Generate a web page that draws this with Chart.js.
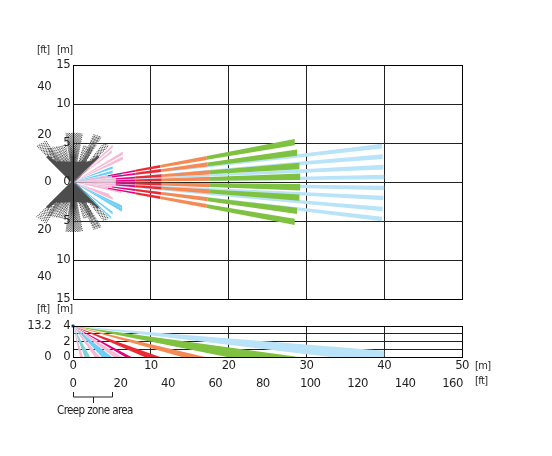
<!DOCTYPE html>
<html><head><meta charset="utf-8">
<style>html,body{margin:0;padding:0;background:#fff;width:552px;height:456px;overflow:hidden}
canvas{position:absolute;left:0}</style>
<script src="https://cdn.jsdelivr.net/npm/chart.js@4"></script></head>
<body><canvas id="plan" width="552" height="312" style="top:0"></canvas>
<canvas id="side" width="552" height="156" style="top:300px"></canvas>
<script>
// Top view (metres)
const meterTicksPlan=[-15,-10,-5,0,5,10,15];
const feetTicksPlan=[-40,-20,0,20,40];
const meterTicksX=[0,10,20,30,40,50];
const feetTicksX=[0,20,40,60,80,100,120,140,160];
const longTipY=[5.1,3.76,2.05,0.68,-0.68,-2.0,-3.7,-5.1];
const pinkEnd=[4.5,5,5.5,5.5,5.5,5.5,5,4.5];
const magentaEnd=[8,8,8,8,8,8,8,8];
const redEnd=[11.2,11.3,11.4,11.4,11.4,11.4,11.3,11.2];
const orangeEnd=[17.2,17.3,17.5,17.6,17.6,17.5,17.3,17.2];
const greenEnd=[28.5,28.8,29.1,29.2,29.2,29.1,28.8,28.5];
const blueTipX=[39.7,39.8,39.9,40,40,39.9,39.8,39.7];
const blueTipY=[4.6,3.25,1.9,0.64,-0.77,-2.05,-3.46,-4.74];
const shortPinkX=[5.1,5.0,6.4,6.4,6.2,5.1,4.7];
const shortPinkY=[4.6,3.9,3.7,3.05,-1.2,-2.1,-1.7];
const shortCyanX=[5.1,5.1,6.2,6.3,6.3,5.1,4.9];
const shortCyanY=[1.85,1.3,1.0,-3.2,-3.6,-4.0,-4.6];
const creepRaysX=[-4.7,-4.5,-4.3,-4.1,-3.9,-3.7,-3.5,-3.2,-3.0,-2.8,-2.6,-2.4,-2.2,-2.0,-1.8,-1.6,-1.4,-1.2,-1.0,-0.9,-0.75,-0.6,-0.45,-0.3,-0.15,0,0.15,0.3,0.45,0.6,0.75,0.9,1.05,1.2,1.4,1.6,1.8,2.0,2.2,2.4,2.6,2.7,2.85,3.0,3.15,3.3,3.45,3.6,4.0,4.2,4.4,4.6];
const creepRaysUp=[4.7,4.8,4.9,5.0,5.1,5.2,5.3,4.3,4.4,4.4,4.5,4.5,4.6,4.6,4.6,4.7,4.7,4.8,4.8,6.3,6.3,6.3,6.3,6.3,6.3,6.3,6.3,6.3,6.3,6.3,6.3,6.3,6.25,6.2,4.7,4.7,4.6,4.6,4.5,4.5,4.4,6.1,6.05,6.0,5.95,5.9,5.85,5.8,5.0,4.9,4.8,4.7];
const creepRaysDown=[-4.5,-4.7,-4.8,-5.0,-5.1,-5.2,-5.3,-4.3,-4.4,-4.4,-4.5,-4.5,-4.6,-4.6,-4.6,-4.7,-4.7,-4.8,-4.8,-6.4,-6.4,-6.4,-6.4,-6.4,-6.4,-6.4,-6.4,-6.4,-6.4,-6.4,-6.4,-6.4,-6.3,-6.3,-4.7,-4.7,-4.6,-4.6,-4.5,-4.5,-4.4,-6.1,-6.05,-6.0,-5.95,-5.9,-5.85,-5.8,-5.0,-4.9,-4.8,-4.7];
const coreX=[-3.3,-3.0,-2.7,-2.4,-2.1,-1.8,-1.5,-1.2,-0.9,-0.6,-0.3,0,0.3,0.6,0.9,1.2,1.5,1.8,2.1,2.4,2.7,3.0,3.3];
const coreUp=[3.3,3.0,2.8,2.6,2.6,2.6,2.6,2.6,2.6,2.6,2.6,2.6,2.6,2.6,2.6,2.6,2.6,2.6,2.6,2.6,2.8,3.0,3.3];
const coreDown=[-3.3,-3.0,-2.8,-2.6,-2.6,-2.6,-2.6,-2.6,-2.6,-2.6,-2.6,-2.6,-2.6,-2.6,-2.6,-2.6,-2.6,-2.6,-2.6,-2.6,-2.8,-3.0,-3.3];
// Side view (metres)
const meterTicksSide=[0,2,4];
const gridSide=[0,1,2,3,4];
const feetTicksSide=[0,13.2];
const sideNames=['blue','green','orange','red','magenta','pink','cyan','pink','teal','pink'];
const sideNear=[33,19.8,14,9.2,6.7,5.2,3.7,2.8,1.5,0.9];
const sideFar=[40,29,17,11.2,7.5,6.3,5,3.5,2.2,1.3];
const colors={blue:'#b8e3f8',green:'#7fc241',orange:'#f58a55',red:'#ed2a33',magenta:'#e6007e',pink:'#f8b9d4',cyan:'#6dcff6',teal:'#7fd3d6',gray:'#4d4d4d'};
const FONT='"DejaVu Sans Condensed","Liberation Sans",sans-serif', INK='#231f20';

function wedge(pts,color){return {data:pts,showLine:true,fill:'shape',backgroundColor:color,borderColor:color,borderWidth:0,pointRadius:0,tension:0};}
function band(tipX,tipY,from,to,w,color){
  const s=tipY/tipX;
  return wedge([{x:from,y:from*(s+w)},{x:to,y:to*(s+w)},{x:to,y:to*(s-w)},{x:from,y:from*(s-w)},{x:from,y:from*(s+w)}],color);
}
function rays(xs,ys,width,dash,offset){
  const pts=[];
  xs.forEach((x,i)=>{pts.push({x:0,y:0},{x:x,y:ys[i]},{x:NaN,y:NaN});});
  return {data:pts,showLine:true,fill:false,borderColor:colors.gray,borderWidth:width,borderDash:dash,borderDashOffset:offset||0,pointRadius:0,clip:false,spanGaps:false,tension:0};
}
const odd=(a,r)=>a.filter((_,i)=>i%2===r);
const planSets=[];
[0,1].forEach(r=>{
  planSets.push(rays(odd(creepRaysX,r),odd(creepRaysUp,r),1.15,[1,1],r));
  planSets.push(rays(odd(creepRaysX,r),odd(creepRaysDown,r),1.15,[1,1],r));
});
planSets.push(rays(coreX,coreUp,3,[]));
planSets.push(rays(coreX,coreDown,3,[]));
blueTipY.forEach((y,i)=>planSets.push(band(blueTipX[i],y,0,blueTipX[i],0.0075,colors.blue)));
shortPinkX.forEach((x,i)=>planSets.push(band(x,shortPinkY[i],0,x,0.032,colors.pink)));
shortCyanX.forEach((x,i)=>planSets.push(band(x,shortCyanY[i],0,x,0.032,colors.cyan)));
longTipY.forEach((y,i)=>{
  const tx=greenEnd[i];
  planSets.push(band(tx,y,0,pinkEnd[i],0.02,colors.pink));
  planSets.push(band(tx,y,pinkEnd[i],magentaEnd[i],0.015,colors.magenta));
  planSets.push(band(tx,y,magentaEnd[i],redEnd[i],0.016,colors.red));
  planSets.push(band(tx,y,redEnd[i],orangeEnd[i],0.015,colors.orange));
  planSets.push(band(tx,y,orangeEnd[i],greenEnd[i],0.014,colors.green));
});

const sideSets=sideNames.map((n,i)=>{
  const p=n==='blue'
    ?[{x:0,y:4},{x:sideFar[i],y:0.8},{x:sideFar[i],y:0},{x:sideNear[i],y:0},{x:0,y:4}]
    :[{x:0,y:4},{x:sideFar[i],y:0},{x:sideNear[i],y:0},{x:0,y:4}];
  return wedge(p,colors[n]);
});
sideSets.push({data:[{x:0,y:4}],pointRadius:2,pointStyle:'rect',backgroundColor:'#1b2a80',borderWidth:0,clip:false});

const fixedWidth=w=>function(s){s.width=w;};
const fixedHeight=h=>function(s){s.height=h;};
const textPlugin=items=>({id:'notes',afterDraw(c){
  const x=c.ctx;x.save();x.fillStyle=INK;x.textBaseline='middle';
  items.forEach(t=>{x.font=t[3]+'px '+FONT;x.textAlign=t[4]||'left';x.fillText(t[0],t[1],t[2]);});
  x.restore();
}});
function tickList(list){return function(s){s.ticks=list.map(v=>({value:v}));};}
const tickFont={family:FONT,size:13};
const narrow={id:'narrow',beforeDraw(c){c.ctx.letterSpacing='-0.6px';}};

new Chart(document.getElementById('plan'),{
  type:'scatter',data:{datasets:planSets.slice().reverse()},
  options:{responsive:false,animation:false,devicePixelRatio:1,
    layout:{padding:{left:23,top:65,right:90,bottom:13}},
    plugins:{legend:{display:false},tooltip:{enabled:false}},
    scales:{
      x:{type:'linear',min:0,max:50,afterBuildTicks:tickList(meterTicksX),afterFit:fixedHeight(0),
         grid:{color:'#222',lineWidth:1,drawTicks:false},border:{color:'#000'},ticks:{display:false,autoSkip:false}},
      y:{type:'linear',min:-15,max:15,position:'left',afterBuildTicks:tickList(meterTicksPlan),afterFit:fixedWidth(20),
         grid:{color:'#222',lineWidth:1,drawTicks:false},border:{color:'#000'},
         ticks:{z:1,autoSkip:false,font:tickFont,color:INK,padding:3,callback:v=>Math.abs(v)}},
      yFt:{type:'linear',min:-49.2,max:49.2,position:'left',afterBuildTicks:tickList(feetTicksPlan),afterFit:fixedWidth(30),
         grid:{display:false,drawTicks:false},border:{display:false},
         ticks:{z:1,autoSkip:false,font:tickFont,color:INK,padding:2,callback:v=>Math.abs(v)}}
    }},
  plugins:[narrow,textPlugin([['[ft]',37,50,11],['[m]',57,50,11]]),
    {id:'box',afterDraw(c){const a=c.chartArea,x=c.ctx;x.save();x.strokeStyle='#000';x.lineWidth=1;
      x.strokeRect(Math.round(a.left)+.5,Math.round(a.top)+.5,Math.round(a.right-a.left),Math.round(a.bottom-a.top));x.restore();}}]
});

new Chart(document.getElementById('side'),{
  type:'scatter',data:{datasets:sideSets.slice().reverse()},
  options:{responsive:false,animation:false,devicePixelRatio:1,
    layout:{padding:{left:23,top:26,right:90,bottom:63}},
    plugins:{legend:{display:false},tooltip:{enabled:false}},
    scales:{
      x:{type:'linear',min:0,max:50,position:'bottom',afterBuildTicks:tickList(meterTicksX),afterFit:fixedHeight(17),
         grid:{color:'#222',lineWidth:1,drawTicks:false},border:{color:'#000'},
         ticks:{autoSkip:false,font:tickFont,color:INK,padding:1,maxRotation:0,callback:v=>v}},
      xFt:{type:'linear',min:0,max:164,position:'bottom',afterBuildTicks:tickList(feetTicksX),afterFit:fixedHeight(19),
         grid:{display:false,drawTicks:false},border:{display:false},
         ticks:{autoSkip:false,font:tickFont,color:INK,padding:2,maxRotation:0,callback:v=>v}},
      y:{type:'linear',min:0,max:4,position:'left',afterBuildTicks:tickList(gridSide),afterFit:fixedWidth(20),
         grid:{color:'#222',lineWidth:1,drawTicks:false},border:{color:'#000'},
         ticks:{autoSkip:false,font:tickFont,color:INK,padding:3,callback:v=>meterTicksSide.includes(v)?v:''}},
      yFt:{type:'linear',min:0,max:13.2,position:'left',afterBuildTicks:tickList(feetTicksSide),afterFit:fixedWidth(30),
         grid:{display:false,drawTicks:false},border:{display:false},
         ticks:{autoSkip:false,font:tickFont,color:INK,padding:2,callback:v=>v}}
    }},
  plugins:[narrow,textPlugin([['[ft]',37,9,11],['[m]',57,9,11],['[m]',475,66,11],['[ft]',475,81,11],['Creep zone area',57,111,11.5]]),
    {id:'creep',afterDraw(c){const s=c.scales.x,x=c.ctx,a=Math.round(s.getPixelForValue(0))+.5,b=Math.round(s.getPixelForValue(5))+.5,m=Math.round((a+b)/2)+.5;
      x.save();x.strokeStyle='#222';x.lineWidth=1;x.beginPath();
      x.moveTo(a,92);x.lineTo(a,97);x.lineTo(b,97);x.lineTo(b,92);x.moveTo(m,97);x.lineTo(m,103);x.stroke();x.restore();}},
    {id:'box',afterDraw(c){const a=c.chartArea,x=c.ctx;x.save();x.strokeStyle='#000';x.lineWidth=1;
      x.strokeRect(Math.round(a.left)+.5,Math.round(a.top)+.5,Math.round(a.right-a.left),Math.round(a.bottom-a.top));x.restore();}}]
});
</script></body></html>
